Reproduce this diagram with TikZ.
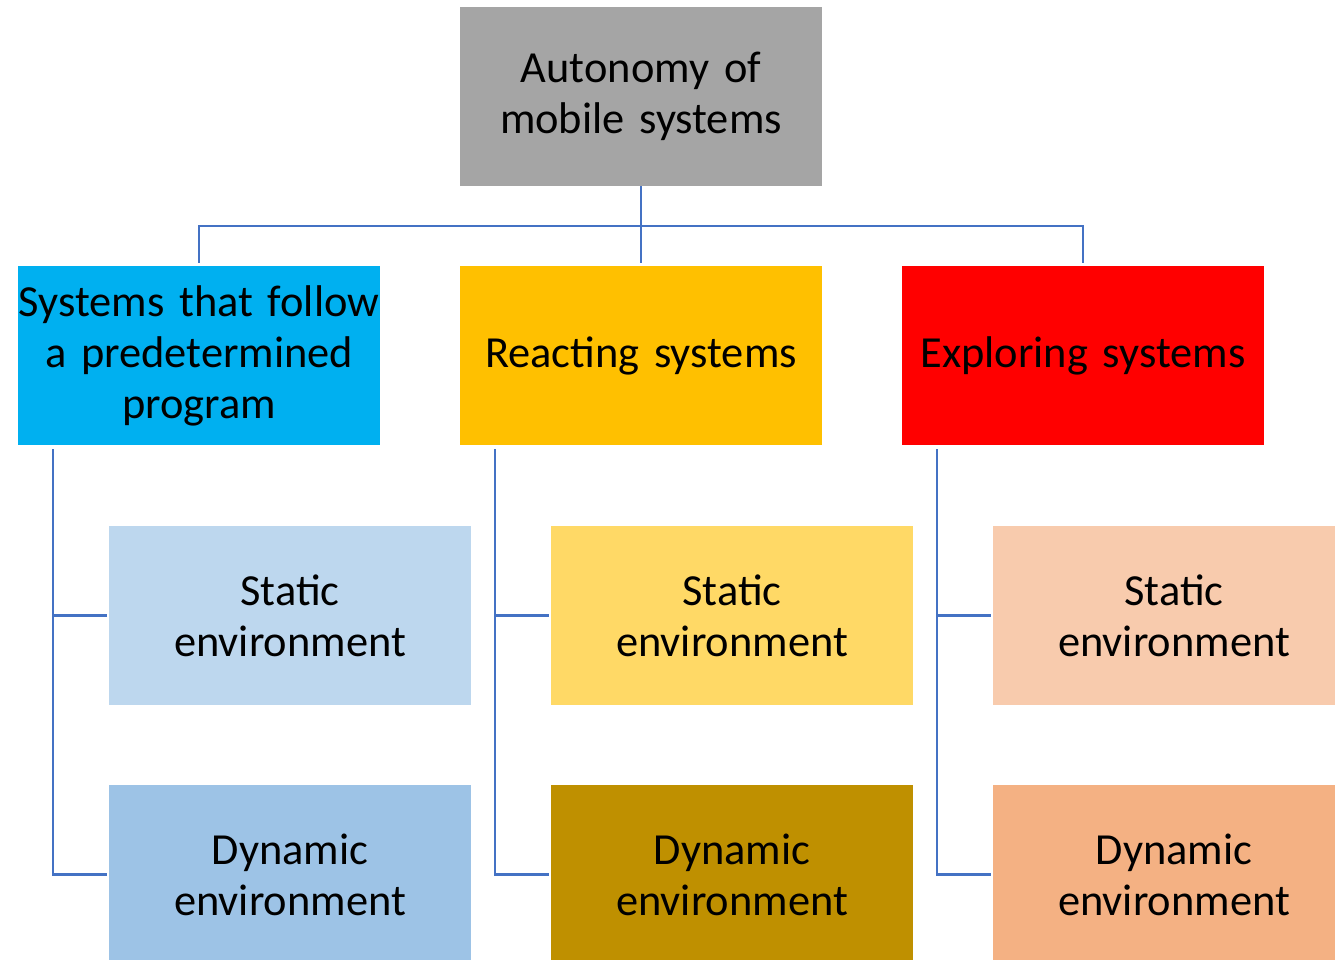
\documentclass[tikz,border=0pt]{standalone}
\usepackage{fontspec}
\setmainfont{Carlito}
\definecolor{cgray}{HTML}{A5A5A5}
\definecolor{cblue}{HTML}{00B0F0}
\definecolor{cyel}{HTML}{FFC000}
\definecolor{cred}{HTML}{FF0000}
\definecolor{lb1}{HTML}{BDD7EE}
\definecolor{lb2}{HTML}{9DC3E6}
\definecolor{ly1}{HTML}{FFD966}
\definecolor{ly2}{HTML}{BF9000}
\definecolor{lo1}{HTML}{F8CBAD}
\definecolor{lo2}{HTML}{F4B183}
\definecolor{conncol}{HTML}{4472C4}
\begin{document}
\begin{tikzpicture}[x=0.75pt,y=-0.75pt,
  box/.style={minimum width=271.5pt,minimum height=134.25pt,inner sep=0pt,
    text width=271.5pt,align=center,font=\fontsize{33.3}{38.25}\selectfont},
  conn/.style={draw=conncol,line width=1.6pt}]
\useasboundingbox (0,0) rectangle (1335,960);
\clip (0,0) rectangle (1335,960);
\fill[white] (0,0) rectangle (1335,960);
\node[box,fill=cgray] (root) at (641,96.5) {Autonomy of\\mobile systems};
\node[box,fill=cblue] (a) at (199,355.5) {Systems that follow\\a predetermined\\program};
\node[box,fill=cyel] (b) at (641,355.5) {Reacting systems};
\node[box,fill=cred] (c) at (1083,355.5) {Exploring systems};
\node[box,fill=lb1] (as) at (290,615.5) {Static\\environment};
\node[box,fill=lb2] (ad) at (290,874.5) {Dynamic\\environment};
\node[box,fill=ly1] (bs) at (732,615.5) {Static\\environment};
\node[box,fill=ly2] (bd) at (732,874.5) {Dynamic\\environment};
\node[box,fill=lo1] (cs) at (1174,615.5) {Static\\environment};
\node[box,fill=lo2] (cd) at (1174,874.5) {Dynamic\\environment};
\draw[conn,shorten >=2.25pt] (root.south) -- ++(0,40) -| (a.north);
\draw[conn,shorten >=2.25pt] (root.south) -- ++(0,40) -| (c.north);
\draw[conn,shorten >=2.25pt] (root.south) -- (b.north);
\foreach \p in {a,b,c}{
  \draw[conn,shorten <=3pt,shorten >=1.5pt] ([xshift=26.25pt]\p.south west) |- (\p s.west);
  \draw[conn,shorten <=3pt,shorten >=1.5pt] ([xshift=26.25pt]\p.south west) |- (\p d.west);
}
\end{tikzpicture}
\end{document}
